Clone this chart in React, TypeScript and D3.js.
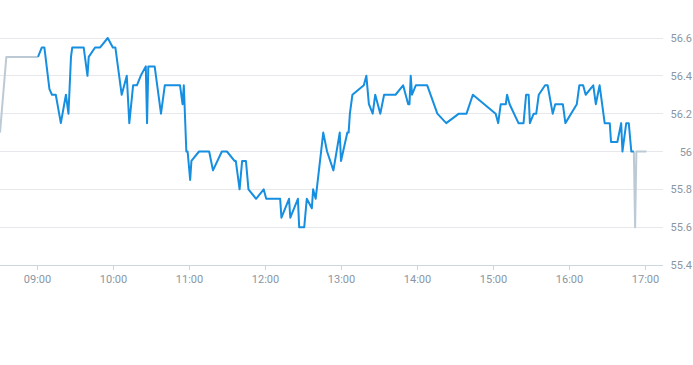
import * as d3 from 'd3';

// intraday session (blue) and pre/post-session (grey) prices
const sessionTimes = [
  '09:01', '09:04', '09:06', '09:10', '09:12', '09:15', '09:19', '09:23', '09:25', '09:27',
  '09:28', '09:37', '09:40', '09:41', '09:46', '09:50', '09:56', '10:00', '10:02', '10:04',
  '10:07', '10:11', '10:13', '10:16', '10:19', '10:22', '10:26', '10:27', '10:28', '10:33',
  '10:38', '10:41', '10:53', '10:55', '10:56', '10:58', '10:59', '11:01', '11:02', '11:08',
  '11:16', '11:19', '11:26', '11:30', '11:36', '11:37', '11:40', '11:42', '11:45', '11:47',
  '11:53', '11:59', '12:01', '12:12', '12:13', '12:19', '12:20', '12:26', '12:27', '12:31',
  '12:33', '12:37', '12:38', '12:40', '12:46', '12:49', '12:54', '12:59', '13:00', '13:05',
  '13:06', '13:07', '13:09', '13:18', '13:20', '13:22', '13:25', '13:27', '13:31', '13:34',
  '13:43', '13:49', '13:53', '13:54', '13:55', '13:56', '13:59', '14:08', '14:16', '14:23',
  '14:33', '14:39', '14:44', '15:02', '15:04', '15:06', '15:10', '15:11', '15:13', '15:20',
  '15:24', '15:26', '15:28', '15:29', '15:32', '15:34', '15:36', '15:41', '15:43', '15:47',
  '15:49', '15:55', '15:57', '16:06', '16:08', '16:11', '16:13', '16:19', '16:21', '16:24',
  '16:28', '16:32', '16:33', '16:38', '16:41', '16:42', '16:45', '16:47', '16:49', '16:51',
];
const sessionValues = [
  56.5, 56.55, 56.55, 56.33, 56.3, 56.3, 56.15, 56.3, 56.2, 56.5,
  56.55, 56.55, 56.4, 56.5, 56.55, 56.55, 56.6, 56.55, 56.55, 56.45,
  56.3, 56.4, 56.15, 56.35, 56.35, 56.4, 56.45, 56.15, 56.45, 56.45,
  56.2, 56.35, 56.35, 56.25, 56.35, 56.0, 56.0, 55.85, 55.95, 56.0,
  56.0, 55.9, 56.0, 56.0, 55.95, 55.95, 55.8, 55.95, 55.95, 55.8,
  55.75, 55.8, 55.75, 55.75, 55.65, 55.75, 55.65, 55.75, 55.6, 55.6,
  55.75, 55.7, 55.8, 55.75, 56.1, 56.0, 55.9, 56.1, 55.95, 56.1,
  56.1, 56.2, 56.3, 56.35, 56.4, 56.25, 56.2, 56.3, 56.2, 56.3,
  56.3, 56.35, 56.25, 56.25, 56.4, 56.3, 56.35, 56.35, 56.2, 56.15,
  56.2, 56.2, 56.3, 56.2, 56.15, 56.25, 56.25, 56.3, 56.25, 56.15,
  56.15, 56.3, 56.3, 56.15, 56.2, 56.2, 56.3, 56.35, 56.35, 56.2,
  56.25, 56.25, 56.15, 56.25, 56.35, 56.35, 56.3, 56.35, 56.25, 56.35,
  56.15, 56.15, 56.05, 56.05, 56.15, 56.0, 56.15, 56.15, 56.0, 56.0,
];
const preTimes = ['08:31', '08:36', '09:01'];
const preValues = [56.1, 56.5, 56.5];
const postTimes = ['16:51', '16:52', '16:53', '17:01'];
const postValues = [56.0, 55.6, 56.0, 56.0];

const xTicks = ['09:00', '10:00', '11:00', '12:00', '13:00', '14:00', '15:00', '16:00', '17:00'];
const yTicks = [55.4, 55.6, 55.8, 56, 56.2, 56.4, 56.6];

const parse = d3.timeParse('%H:%M');

export default function App() {
  const width = 693;
  const height = 365;
  const plotRight = 663;
  const plotBottom = 265;

  const x = d3.scaleTime()
    .domain([parse('08:31')!, parse('17:14')!])
    .range([0, plotRight]);
  const y = d3.scaleLinear().domain([55.4, 56.6]).range([plotBottom, 38]);

  const line = d3.line<[Date, number]>()
    .x(d => x(d[0]))
    .y(d => y(d[1]));

  const zip = (ts: string[], vs: number[]) => ts.map((t, i) => [parse(t)!, vs[i]] as [Date, number]);

  const labelColor = '#8a96a4';
  const font = 'Roboto, "Noto Sans", sans-serif';

  return (
    <svg width={width} height={height} style={{ position: 'absolute', left: 0, top: 0, background: '#fff' }}>
      {/* grid */}
      {yTicks.map(v => (
        <line key={v} x1={0} x2={plotRight} y1={y(v)} y2={y(v)}
          stroke={v === 55.4 ? '#ccd6e0' : '#e6e8eb'} strokeWidth={1} shapeRendering="crispEdges" />
      ))}
      {yTicks.map(v => (
        <text key={'l' + v} x={692} y={y(v) + 4} textAnchor="end" fontSize={11}
          fontFamily={font} fill={labelColor}>{d3.format('~g')(v)}</text>
      ))}
      {/* x ticks */}
      {xTicks.map(t => {
        const px = Math.round(x(parse(t)!)) + 0.5;
        return (
          <g key={t}>
            <line x1={px} x2={px} y1={plotBottom} y2={plotBottom + 5} stroke="#ccd6e0" />
            <text x={px} y={plotBottom + 18} textAnchor="middle" fontSize={11}
              fontFamily={font} fill={labelColor}>{t}</text>
          </g>
        );
      })}
      {/* series */}
      <path d={line(zip(preTimes, preValues))!} fill="none" stroke="#bccad6" strokeWidth={2} strokeLinejoin="round" />
      <path d={line(zip(postTimes, postValues))!} fill="none" stroke="#bccad6" strokeWidth={2} strokeLinejoin="round" />
      <path d={line(zip(sessionTimes, sessionValues))!} fill="none" stroke="#168fe0" strokeWidth={2} strokeLinejoin="round" />
    </svg>
  );
}
